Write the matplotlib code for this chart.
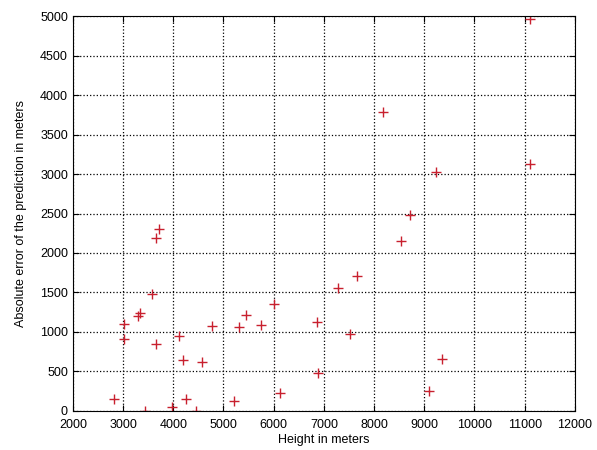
import matplotlib.pyplot as plt

plt.rcParams['font.family'] = ['Liberation Sans', 'DejaVu Sans']

# height of the point (m) and absolute prediction error (m)
height = [2820, 3020, 3020, 3290, 3335, 3435, 3580, 3665, 3710, 3665,
          3985, 4110, 4195, 4245, 4450, 4575, 4780, 5205, 5305, 5445,
          5740, 6010, 6135, 6855, 6885, 7275, 7665, 7530, 8175, 8545,
          8715, 9355, 9100, 9230, 11105, 11105]
abs_error = [150, 1100, 915, 1205, 1235, 0, 1480, 2185, 2305, 850,
             45, 945, 645, 150, 0, 620, 1080, 125, 1065, 1220,
             1090, 1355, 225, 1130, 480, 1560, 1705, 975, 3780, 2155,
             2475, 660, 250, 3030, 4965, 3130]

fig = plt.figure(figsize=(5.97, 4.5), dpi=100)
ax = fig.add_axes([0.122, 0.087, 0.841, 0.877])

ax.plot(height, abs_error, '+', color='#c8202e', markersize=7, markeredgewidth=1.0)

ax.set_xlim(2000, 12000)
ax.set_ylim(0, 5000)
ax.set_xticks(range(2000, 12001, 1000))
ax.set_yticks(range(0, 5001, 500))
ax.grid(True, linestyle=':', color='black', linewidth=0.9)
ax.tick_params(direction='in', top=True, right=True, labelsize=9, length=4)
ax.tick_params(axis='x', pad=6)
for s in ax.spines.values():
    s.set_linewidth(0.8)

ax.set_xlabel('Height in meters', fontsize=9, labelpad=2)
ax.set_ylabel('Absolute error of the prediction in meters', fontsize=9, labelpad=9)

fig.savefig('out.png', dpi=100)
